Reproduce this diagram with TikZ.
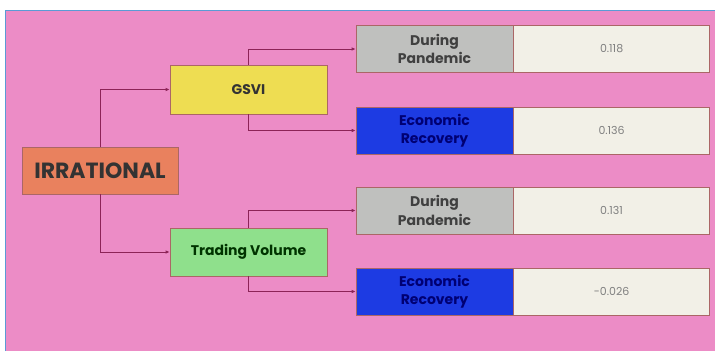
\documentclass[tikz,border=0pt]{standalone}
\usepackage{fontspec}
\setmainfont{Poppins}
\usetikzlibrary{arrows.meta}
\definecolor{bgpink}{HTML}{EC8CC6}
\definecolor{framblue}{HTML}{5A9BD5}
\definecolor{irrcol}{HTML}{E9815E}
\definecolor{gsvicol}{HTML}{EEDD52}
\definecolor{tvcol}{HTML}{8FE08C}
\definecolor{greycol}{HTML}{BFC0BE}
\definecolor{creamcol}{HTML}{F2F0E7}
\definecolor{bluecol}{HTML}{1D3BE3}
\definecolor{linecol}{HTML}{8C2457}
\begin{document}
\begin{tikzpicture}[x=1pt,y=-1pt,
  box/.style={draw=black!55!red!60,line width=0.6pt,minimum height=47pt,align=center,inner sep=2pt,font=\bfseries},
  mid node/.style={box,minimum width=157pt,font=\bfseries\fontsize{14}{18}\selectfont,text=black!80},
  tag node/.style={box,minimum width=157pt,font=\bfseries\fontsize{14}{18.5}\selectfont,text=black!75},
  val node/.style={box,minimum width=196pt,fill=creamcol,font=\fontsize{11}{12}\selectfont,text=black!50},
  link/.style={draw=linecol,line width=0.8pt,-{Latex[length=4pt,width=3.5pt]}}]

  \useasboundingbox (0,0) rectangle (715,351);
  \fill[white] (0,0) rectangle (715,351);
  \fill[bgpink] (5,10) rectangle (715,351);
  \draw[framblue,line width=0.8pt] (5,351) -- (5,10) -- (715,10);

  \node[box,minimum width=156pt,fill=irrcol,font=\bfseries\fontsize{22}{24}\selectfont,text=black!80] (irr) at (100,170.5) {IRRATIONAL};
  \node[mid node,fill=gsvicol,minimum height=49pt] (gsvi) at (248.5,89.5) {GSVI};
  \node[mid node,fill=tvcol,minimum height=48pt,text=green!20!black] (tv) at (248.5,252) {Trading Volume};

  \node[tag node,fill=greycol] (dp1) at (434.5,49) {During\\Pandemic};
  \node[val node,anchor=west] (dp1v) at (dp1.east) {0.118};
  \node[tag node,fill=bluecol,text=blue!45!black] (er1) at (434.5,130.5) {Economic\\Recovery};
  \node[val node,anchor=west] (er1v) at (er1.east) {0.136};
  \node[tag node,fill=greycol] (dp2) at (434.5,210.5) {During\\Pandemic};
  \node[val node,anchor=west] (dp2v) at (dp2.east) {0.131};
  \node[tag node,fill=bluecol,text=blue!45!black] (er2) at (434.5,291.5) {Economic\\Recovery};
  \node[val node,anchor=west] (er2v) at (er2.east) {-0.026};

  \path[link] (irr.north) |- (gsvi.west);
  \path[link] (irr.south) |- (tv.west);
  \path[link] (gsvi.north) |- (dp1.west);
  \path[link] (gsvi.south) |- (er1.west);
  \path[link] (tv.north) |- (dp2.west);
  \path[link] (tv.south) |- (er2.west);
\end{tikzpicture}
\end{document}
